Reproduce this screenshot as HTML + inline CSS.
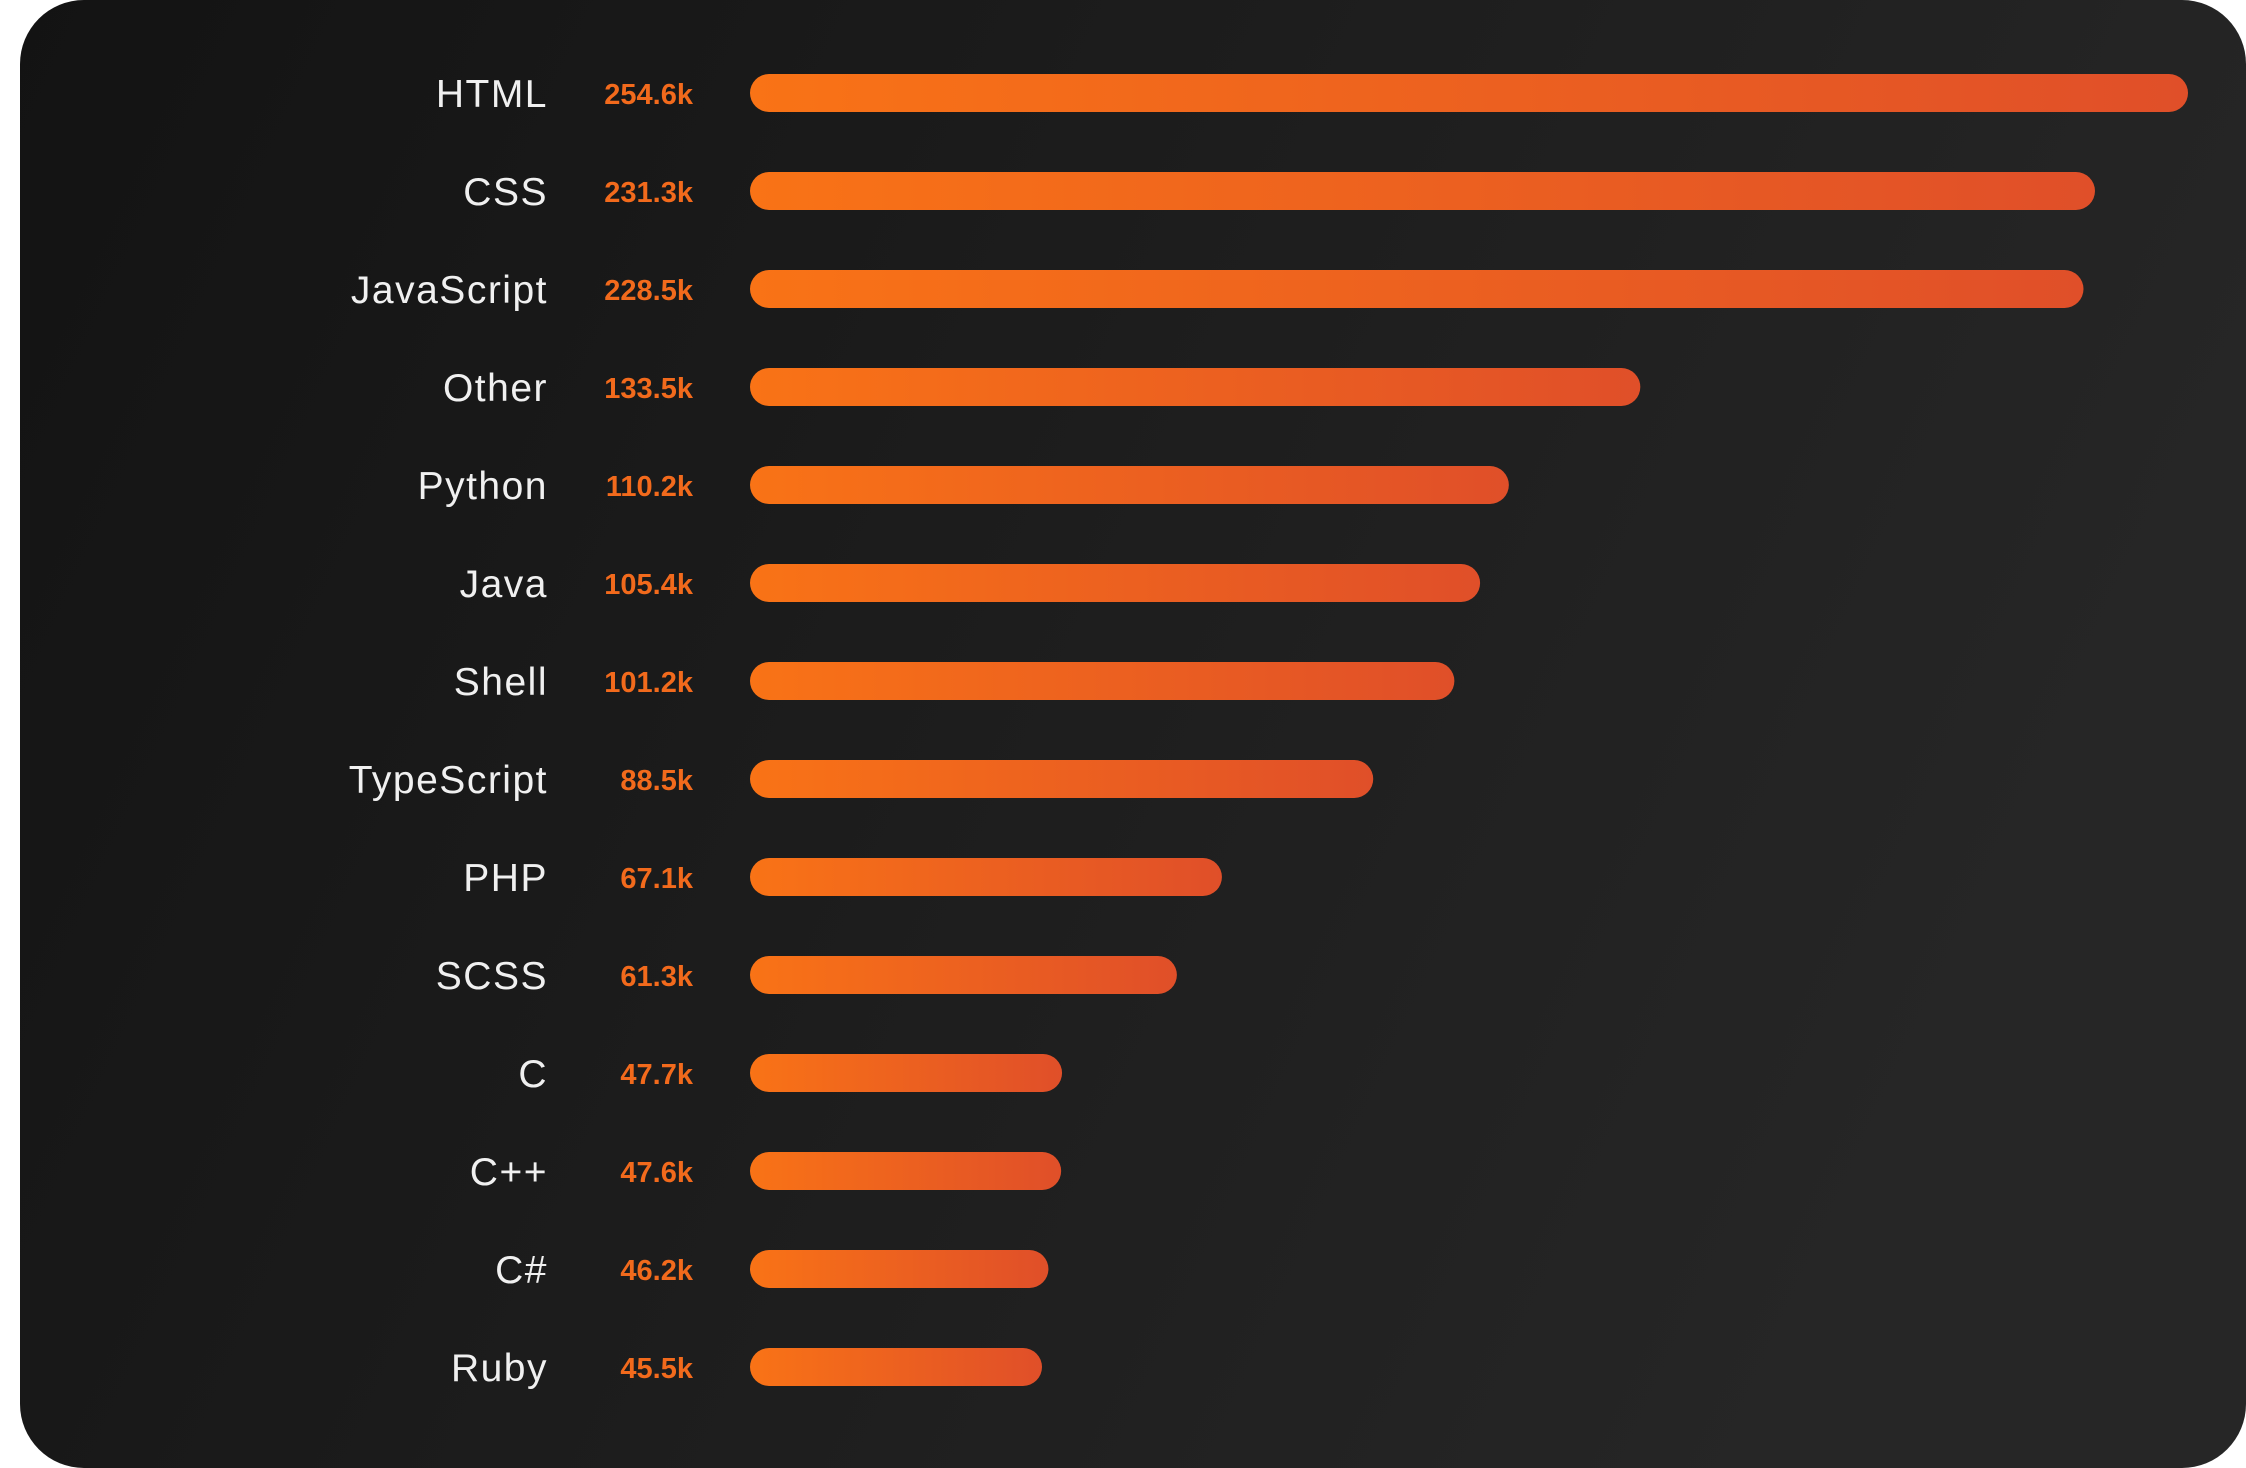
<!DOCTYPE html>
<html><head><meta charset="utf-8"><style>
html,body{margin:0;padding:0;background:#fff;}
svg{display:block;}
</style></head><body>
<svg id="chart" width="2246" height="1468" viewBox="0 0 2246 1468">
<defs>
<linearGradient id="cardBg" x1="0" y1="0" x2="1" y2="0.3">
<stop offset="0" stop-color="#131313"/><stop offset="1" stop-color="#262626"/>
</linearGradient>
<linearGradient id="barGrad" x1="0" y1="0" x2="1" y2="0">
<stop offset="0" stop-color="#f97316"/><stop offset="1" stop-color="#e04f29"/>
</linearGradient>
</defs>
<rect x="20" y="0" width="2226" height="1468" rx="64" fill="url(#cardBg)"/>
<g id="rows"></g>
</svg>
<script>
const categories = ["HTML","CSS","JavaScript","Other","Python","Java","Shell","TypeScript","PHP","SCSS","C","C++","C#","Ruby"];
const values = [254.6,231.3,228.5,133.5,110.2,105.4,101.2,88.5,67.1,61.3,47.7,47.6,46.2,45.5];
const valueLabels = ["254.6k","231.3k","228.5k","133.5k","110.2k","105.4k","101.2k","88.5k","67.1k","61.3k","47.7k","47.6k","46.2k","45.5k"];

const barX0 = 750, barH = 38, rowTop = 93, rowStep = 98;
const vMin = Math.min(...values), vMax = Math.max(...values);
const wMin = 292, wMax = 1438;
function xLen(v){
  const a = Math.sqrt(vMin), b = Math.sqrt(vMax);
  return wMin + (Math.sqrt(v) - a) / (b - a) * (wMax - wMin);
}
function yPos(i){ return rowTop + i * rowStep; }

const NS = "http://www.w3.org/2000/svg";
const g = document.getElementById("rows");
categories.forEach((c, i) => {
  const cy = yPos(i);
  const lab = document.createElementNS(NS, "text");
  lab.setAttribute("x", 548);
  lab.setAttribute("y", cy + 14);
  lab.setAttribute("text-anchor", "end");
  lab.setAttribute("fill", "#f0f0f0");
  lab.setAttribute("font-family", "Liberation Sans, sans-serif");
  lab.setAttribute("font-size", "39");
  lab.setAttribute("letter-spacing", "1.5");
  lab.textContent = c;
  
  
  g.appendChild(lab);

  const val = document.createElementNS(NS, "text");
  val.setAttribute("x", 693);
  val.setAttribute("y", cy + 11);
  val.setAttribute("text-anchor", "end");
  val.setAttribute("fill", "#f26a1c");
  val.setAttribute("font-family", "Liberation Sans, sans-serif");
  val.setAttribute("font-weight", "bold");
  val.setAttribute("font-size", "29");
  val.textContent = valueLabels[i];
  
  
  g.appendChild(val);

  const bar = document.createElementNS(NS, "rect");
  bar.setAttribute("x", barX0);
  bar.setAttribute("y", cy - barH / 2);
  bar.setAttribute("width", xLen(values[i]));
  bar.setAttribute("height", barH);
  bar.setAttribute("rx", barH / 2);
  bar.setAttribute("fill", "url(#barGrad)");
  
  
  g.appendChild(bar);
});
</script>
</body></html>
